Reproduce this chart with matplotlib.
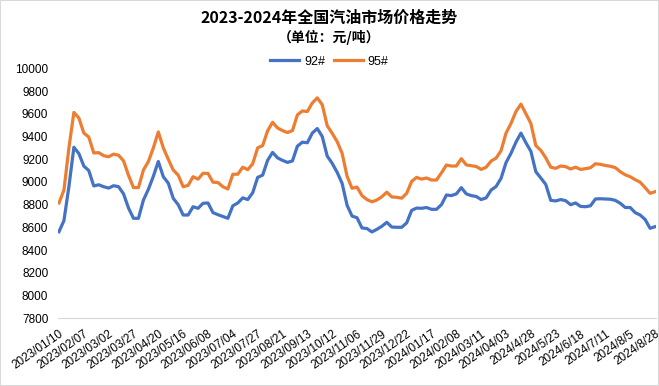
import matplotlib
matplotlib.use("Agg")
import matplotlib.pyplot as plt
from matplotlib.patches import Rectangle

plt.rcParams['font.family'] = ['Noto Sans CJK SC', 'DejaVu Sans']

# 日期标签（每5个点一个）
date_labels = ['2023/01/10', '2023/02/07', '2023/03/02', '2023/03/27', '2023/04/20',
               '2023/05/16', '2023/06/08', '2023/07/04', '2023/07/27', '2023/08/21',
               '2023/09/13', '2023/10/12', '2023/11/06', '2023/11/29', '2023/12/22',
               '2024/01/17', '2024/02/08', '2024/03/11', '2024/04/03', '2024/4/28',
               '2024/5/23', '2024/6/18', '2024/7/11', '2024/8/5', '2024/8/28']
step = 5

p92 = [8562, 8660, 8960, 9305, 9250, 9140, 9100, 8965, 8975, 8958,
       8946, 8967, 8958, 8895, 8770, 8680, 8680, 8841, 8935, 9050,
       9180, 9046, 8990, 8856, 8800, 8709, 8709, 8782, 8768, 8812,
       8815, 8730, 8712, 8696, 8680, 8790, 8815, 8860, 8845, 8905,
       9040, 9060, 9190, 9260, 9212, 9190, 9172, 9185, 9315, 9350,
       9345, 9430, 9470, 9400, 9228, 9164, 9085, 8988, 8795, 8700,
       8685, 8595, 8590, 8560, 8583, 8610, 8645, 8603, 8601, 8601,
       8640, 8750, 8770, 8768, 8775, 8759, 8759, 8800, 8885, 8880,
       8895, 8950, 8895, 8880, 8872, 8845, 8860, 8929, 8960, 9032,
       9170, 9252, 9350, 9430, 9345, 9270, 9090, 9035, 8978, 8838,
       8833, 8845, 8835, 8800, 8815, 8785, 8782, 8790, 8850, 8852,
       8850, 8848, 8838, 8812, 8775, 8775, 8730, 8709, 8670, 8592,
       8606]

p95 = [8815, 8929, 9300, 9612, 9563, 9431, 9395, 9255, 9258, 9231,
       9222, 9245, 9235, 9185, 9058, 8950, 8950, 9105, 9180, 9300,
       9440, 9300, 9200, 9105, 9060, 8958, 8970, 9046, 9025, 9076,
       9075, 8998, 8995, 8958, 8938, 9068, 9068, 9130, 9108, 9160,
       9300, 9320, 9450, 9525, 9475, 9452, 9435, 9452, 9590, 9625,
       9620, 9695, 9740, 9680, 9495, 9428, 9355, 9252, 9050, 8944,
       8955, 8880, 8845, 8825, 8841, 8870, 8910, 8868, 8865, 8857,
       8900, 9005, 9040, 9025, 9035, 9017, 9017, 9080, 9149, 9140,
       9140, 9205, 9150, 9143, 9136, 9110, 9130, 9184, 9210, 9275,
       9430, 9515, 9620, 9685, 9600, 9515, 9320, 9278, 9212, 9130,
       9120, 9140, 9135, 9114, 9130, 9110, 9117, 9125, 9160, 9155,
       9145, 9138, 9126, 9090, 9063, 9046, 9020, 8998, 8950, 8900,
       8914]

yticks = list(range(7800, 10001, 200))

fig = plt.figure(figsize=(6.59, 3.86), dpi=100)
ax = fig.add_axes([0.088, 0.1754, 0.9075, 0.6476])

x = list(range(len(p92)))
ax.plot(x, p92, color='#4472C4', lw=2.3, label='92#', solid_joinstyle='round')
ax.plot(x, p95, color='#ED7D31', lw=2.3, label='95#', solid_joinstyle='round')

ax.set_xlim(-0.2, len(p92) - 0.8)
ax.set_ylim(7800, 10000)
ax.set_yticks(yticks)
ax.set_yticklabels([str(v) for v in yticks], fontsize=8.5, family='Liberation Sans')
ax.set_xticks(range(0, len(p92), step))
ax.set_xticklabels(date_labels, rotation=35, ha='right', rotation_mode='anchor',
                   fontsize=8.5, family='Liberation Sans')
ax.tick_params(length=0)
ax.tick_params(axis='y', pad=7)
ax.tick_params(axis='x', pad=7)
for s in ['top', 'right', 'left']:
    ax.spines[s].set_visible(False)
ax.spines['bottom'].set_color('#D9D9D9')

fig.text(0.5, 0.953, '2023-2024年全国汽油市场价格走势', ha='center', va='center',
         fontsize=11.5, fontweight='bold')
fig.text(0.5, 0.904, '（单位：元/吨）', ha='center', va='center',
         fontsize=10, fontweight='bold')
fig.legend(loc='center', bbox_to_anchor=(0.5, 0.84), ncol=2, frameon=False,
           handlelength=2.3, handletextpad=0.4, columnspacing=0.7,
           prop={'family': 'Liberation Sans', 'size': 9})

fig.patches.append(Rectangle((0, 0), 1, 1, transform=fig.transFigure, fill=False,
                             edgecolor='#D9D9D9', lw=1.5))

fig.savefig('out.png', dpi=100)
